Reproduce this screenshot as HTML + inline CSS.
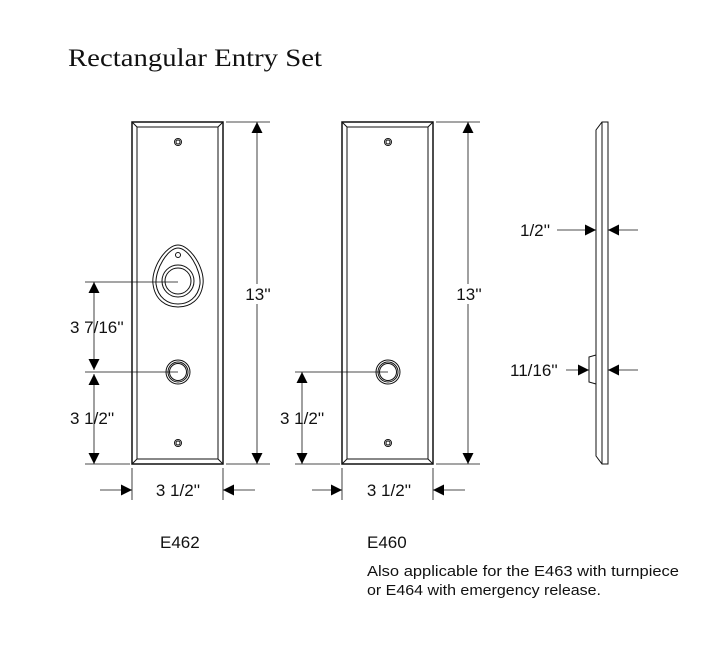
<!DOCTYPE html>
<html><head><style>
body{margin:0;background:#fff}
svg{display:block}
text{font-family:"Liberation Sans",sans-serif;fill:#111}
</style></head><body>
<svg width="714" height="651" viewBox="0 0 714 651" xmlns="http://www.w3.org/2000/svg">
<defs>
<marker id="a" viewBox="0 0 10 10" refX="10" refY="5" markerWidth="12" markerHeight="11" markerUnits="userSpaceOnUse" orient="auto-start-reverse"><path d="M0,0L10,5L0,10z" fill="#000"/></marker>
</defs>
<text x="68" y="66" textLength="254" lengthAdjust="spacingAndGlyphs" style="font-family:'Liberation Serif',serif;font-size:25px">Rectangular Entry Set</text>
<g fill="none" stroke="#111" stroke-width="1">
<rect x="132" y="122" width="91" height="342" stroke-width="1.5"/>
<rect x="137" y="127" width="81" height="332"/>
<path d="M132,122L137,127M223,122L218,127M132,464L137,459M223,464L218,459"/>
<circle cx="178" cy="142" r="3.5"/><circle cx="178" cy="142" r="2"/>
<circle cx="178" cy="443" r="3.5"/><circle cx="178" cy="443" r="2"/>
<path d="M178,245C190,245 205,268 203,284C201,300 190,307 178,307C166,307 155,300 153,284C151,268 166,245 178,245Z"/>
<path d="M178,248C188,248 201,269 200,284C198,298 188,304 178,304C168,304 158,298 156,284C155,269 168,248 178,248Z"/>
<circle cx="178" cy="255" r="2.5"/>
<circle cx="178" cy="281" r="16"/><circle cx="178" cy="281" r="13"/>
<circle cx="178" cy="372" r="12"/><circle cx="178" cy="372" r="10"/><circle cx="178" cy="372" r="8.5"/>
<rect x="342" y="122" width="91" height="342" stroke-width="1.5"/>
<rect x="347" y="127" width="81" height="332"/>
<path d="M342,122L347,127M433,122L428,127M342,464L347,459M433,464L428,459"/>
<circle cx="388" cy="142" r="3.5"/><circle cx="388" cy="142" r="2"/>
<circle cx="388" cy="443" r="3.5"/><circle cx="388" cy="443" r="2"/>
<circle cx="388" cy="372" r="12"/><circle cx="388" cy="372" r="10"/><circle cx="388" cy="372" r="8.5"/>
<path d="M596,130L596,456L602,464L608,464L608,122L602,122Z"/>
<path d="M602,122L602,464"/>
<path d="M596,355L589,357L589,382L596,384"/>
</g>
<g stroke="#111" stroke-width="0.8" fill="none">
<path d="M226,122H270M226,464H270M85,282H178M85,372H178M85,464H130M132,468V500M223,468V500"/>
<path d="M257,122V464" marker-start="url(#a)" marker-end="url(#a)"/>
<path d="M94,282V370" marker-start="url(#a)" marker-end="url(#a)"/>
<path d="M94,374V464" marker-start="url(#a)" marker-end="url(#a)"/>
<path d="M100,490H132" marker-end="url(#a)"/>
<path d="M255,490H223" marker-end="url(#a)"/>
<path d="M436,122H480M436,464H480M295,372H388M295,464H340M342,468V500M433,468V500"/>
<path d="M468,122V464" marker-start="url(#a)" marker-end="url(#a)"/>
<path d="M302,372V464" marker-start="url(#a)" marker-end="url(#a)"/>
<path d="M312,490H342" marker-end="url(#a)"/>
<path d="M465,490H433" marker-end="url(#a)"/>
<path d="M557,230H596" marker-end="url(#a)"/>
<path d="M638,230H608" marker-end="url(#a)"/>
<path d="M566,370H589" marker-end="url(#a)"/>
<path d="M638,370H608" marker-end="url(#a)"/>
</g>
<g font-size="17">
<rect x="243" y="284" width="30" height="20" fill="#fff"/>
<text x="258" y="300" text-anchor="middle">13''</text>
<rect x="454" y="284" width="30" height="20" fill="#fff"/>
<text x="469" y="300" text-anchor="middle">13''</text>
<text x="70" y="333">3 7/16''</text>
<text x="70" y="424">3 1/2''</text>
<text x="280" y="424">3 1/2''</text>
<text x="178" y="496" text-anchor="middle">3 1/2''</text>
<text x="389" y="496" text-anchor="middle">3 1/2''</text>
<text x="520" y="236">1/2''</text>
<text x="510" y="376">11/16''</text>
</g>
<text x="160" y="548" font-size="17">E462</text>
<text x="367" y="548" font-size="17">E460</text>
<text x="367" y="576" font-size="15" textLength="312" lengthAdjust="spacingAndGlyphs">Also applicable for the E463 with turnpiece</text>
<text x="367" y="595" font-size="15" textLength="234" lengthAdjust="spacingAndGlyphs">or E464 with emergency release.</text>
</svg>
</body></html>
